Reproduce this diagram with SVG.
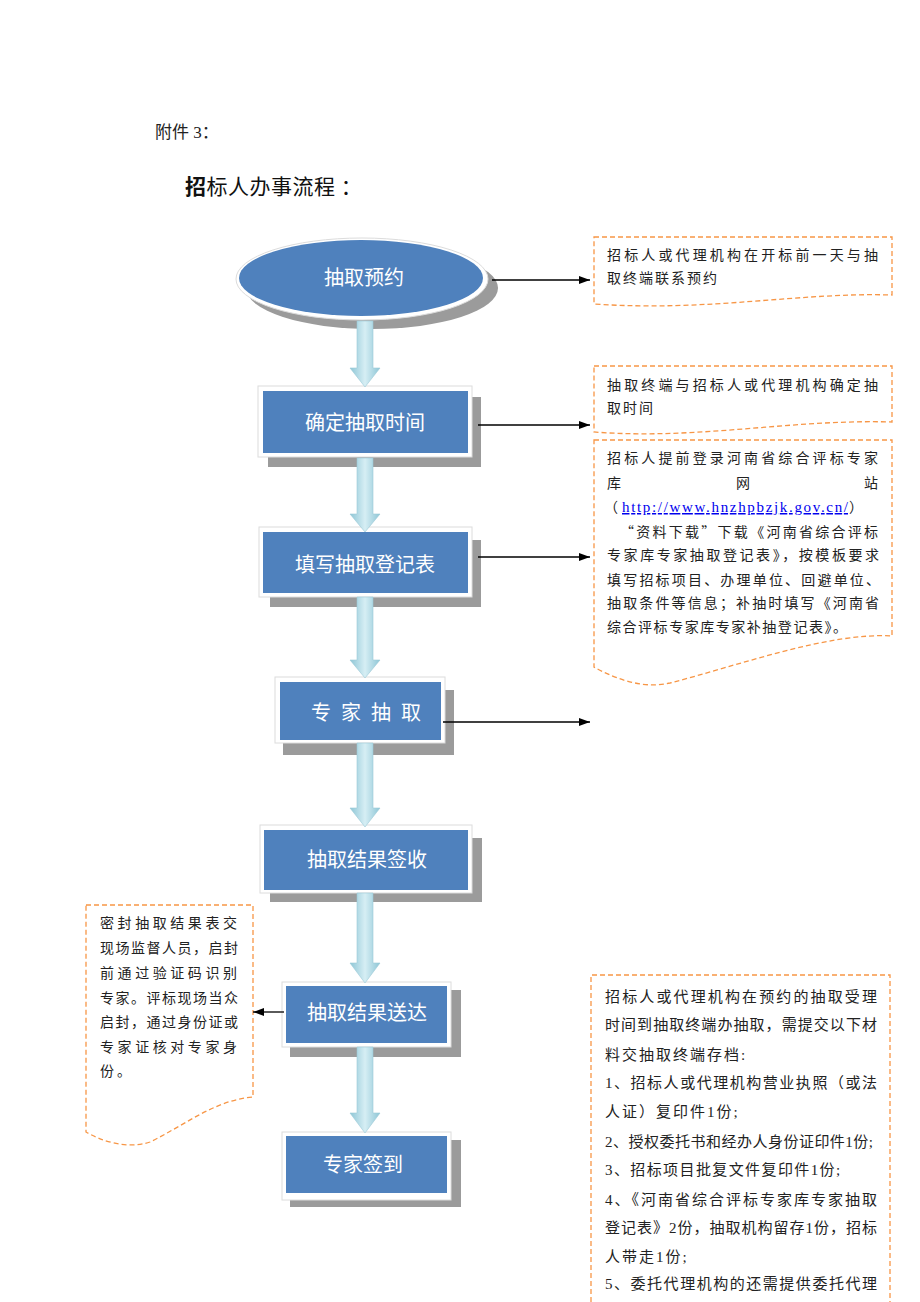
<svg xmlns="http://www.w3.org/2000/svg" width="920" height="1302" viewBox="0 0 920 1302">
<style>
.note{fill:#fff;stroke:#F79646;stroke-width:1.3;stroke-dasharray:5 3}
.nt{font-family:"Noto Sans CJK SC","Liberation Serif",serif;font-size:14px;fill:#222}
.nb{font-family:"Liberation Serif","Noto Sans CJK SC",serif;font-size:15px;fill:#222}
.lbl{font-family:"Noto Sans CJK SC",sans-serif;font-size:20px;fill:#fff;text-anchor:middle}
.sh{fill:#9b9b9b}
.rim{fill:#fff;stroke:#dcdcdc;stroke-width:1}
.blue{fill:#4f81bd}
.thin{stroke:#000;stroke-width:1.3;fill:none;marker-end:url(#ah)}
.fat{fill:url(#fg);stroke:#9cc9d6;stroke-width:0.6}
</style>
<defs>
<marker id="ah" markerUnits="userSpaceOnUse" markerWidth="11" markerHeight="8" refX="11" refY="4" orient="auto"><path d="M0,0 L11,4 L0,8 z" fill="#000"/></marker>
<linearGradient id="fg" x1="0" y1="0" x2="1" y2="0"><stop offset="0" stop-color="#8ec6d6"/><stop offset="0.5" stop-color="#d6eef4"/><stop offset="1" stop-color="#8ec6d6"/></linearGradient>
</defs>
<rect width="920" height="1302" fill="#fff"/>
<g id="title">
<text x="155" y="138" font-family="Liberation Serif,'Noto Sans CJK SC',serif" font-size="17" fill="#222">附件 3：</text>
<text x="185" y="194" font-family="'Noto Sans CJK SC',sans-serif" font-size="21" fill="#111" letter-spacing="0.5"><tspan font-weight="bold">招</tspan>标人办事流程 ：</text>
</g>

<g id="n1">
<ellipse class="sh" cx="372" cy="288" rx="126" ry="41"/>
<ellipse class="rim" cx="362" cy="279" rx="126" ry="41"/>
<ellipse class="blue" cx="361" cy="278" rx="122" ry="38"/>
<text class="lbl" x="364" y="285">抽取预约</text>
</g>
<g id="n2">
<rect class="sh" x="268" y="397" width="213" height="70"/>
<rect class="rim" x="258" y="386" width="214" height="71"/>
<rect class="blue" x="263" y="391" width="205" height="62"/>
<text class="lbl" x="365" y="430">确定抽取时间</text>
</g>
<g id="n3">
<rect class="sh" x="270" y="540" width="211" height="67"/>
<rect class="rim" x="259" y="527" width="213" height="70"/>
<rect class="blue" x="263" y="532" width="205" height="61"/>
<text class="lbl" x="365" y="572">填写抽取登记表</text>
</g>
<g id="n4">
<rect class="sh" x="283" y="690" width="171" height="65"/>
<rect class="rim" x="275" y="677" width="170" height="66"/>
<rect class="blue" x="280" y="682" width="161" height="58"/>
<text class="lbl" x="371" y="720" letter-spacing="10">专家抽取</text>
</g>
<g id="n5">
<rect class="sh" x="270" y="838" width="212" height="64"/>
<rect class="rim" x="260" y="825" width="212" height="68"/>
<rect class="blue" x="264" y="830" width="204" height="60"/>
<text class="lbl" x="367" y="867">抽取结果签收</text>
</g>
<g id="n6">
<rect class="sh" x="290" y="990" width="171" height="67"/>
<rect class="rim" x="282" y="982" width="169" height="65"/>
<rect class="blue" x="286" y="986" width="161" height="57"/>
<text class="lbl" x="367" y="1020">抽取结果送达</text>
</g>
<g id="n7">
<rect class="sh" x="290" y="1140" width="171" height="67"/>
<rect class="rim" x="282" y="1132" width="169" height="68"/>
<rect class="blue" x="286" y="1136" width="161" height="57"/>
<text class="lbl" x="363" y="1172">专家签到</text>
</g>

<g id="note1">
<path class="note" d="M594,237 H892 V295 C800,292 710,312 594,304 Z"/>
<text class="nt" x="607" y="260" textLength="271" lengthAdjust="spacing">招标人或代理机构在开标前一天与抽</text>
<text class="nt" x="607" y="283" letter-spacing="2">取终端联系预约</text>
</g>
<g id="note2">
<path class="note" d="M594,366 H892 V422 C790,419 700,440 594,432 Z"/>
<text class="nt" x="607" y="390" textLength="271" lengthAdjust="spacing">抽取终端与招标人或代理机构确定抽</text>
<text class="nt" x="607" y="413" letter-spacing="2">取时间</text>
</g>
<g id="note3">
<path class="note" d="M594,440 H892 V636 C830,632 740,665 670,683 C640,690 610,676 594,667 Z"/>
<text class="nt" x="607" y="463" textLength="271" lengthAdjust="spacing">招标人提前登录河南省综合评标专家</text>
<text class="nt" x="607" y="488">库</text>
<text class="nt" x="736" y="488">网</text>
<text class="nt" x="864" y="488">站</text>
<text class="nt" x="604" y="512">（</text>
<text x="622" y="512" font-family="Liberation Serif,serif" font-size="15" fill="#0000ee" text-decoration="underline" textLength="226" lengthAdjust="spacing">http://www.hnzhpbzjk.gov.cn/</text>
<text class="nt" x="849" y="512">）</text>
<text class="nt" x="620" y="537" textLength="258" lengthAdjust="spacing">“资料下载”下载《河南省综合评标</text>
<text class="nt" x="607" y="560" textLength="272" lengthAdjust="spacing">专家库专家抽取登记表》，按模板要求</text>
<text class="nt" x="607" y="585" textLength="273" lengthAdjust="spacing">填写招标项目、办理单位、回避单位、</text>
<text class="nt" x="607" y="608" textLength="272" lengthAdjust="spacing">抽取条件等信息；补抽时填写《河南省</text>
<text class="nt" x="607" y="632" textLength="240" lengthAdjust="spacing">综合评标专家库专家补抽登记表》。</text>
</g>
<g id="note4">
<path class="note" d="M86,905 H253 V1097 C215,1100 185,1125 150,1142 C125,1150 100,1140 86,1132 Z"/>
<text class="nt" x="100" y="928" textLength="137" lengthAdjust="spacing">密封抽取结果表交</text>
<text class="nt" x="100" y="953" textLength="138" lengthAdjust="spacing">现场监督人员，启封</text>
<text class="nt" x="100" y="978" textLength="137" lengthAdjust="spacing">前通过验证码识别</text>
<text class="nt" x="100" y="1003" textLength="138" lengthAdjust="spacing">专家。评标现场当众</text>
<text class="nt" x="100" y="1027" textLength="138" lengthAdjust="spacing">启封，通过身份证或</text>
<text class="nt" x="100" y="1052" textLength="137" lengthAdjust="spacing">专家证核对专家身</text>
<text class="nt" x="100" y="1076" letter-spacing="3">份。</text>
</g>
<g id="note5">
<path class="note" d="M591,1310 V975 H890 V1310"/>
<text class="nb" x="605" y="1002" textLength="272" lengthAdjust="spacing">招标人或代理机构在预约的抽取受理</text>
<text class="nb" x="605" y="1030" textLength="272" lengthAdjust="spacing">时间到抽取终端办抽取，需提交以下材</text>
<text class="nb" x="605" y="1060" letter-spacing="2">料交抽取终端存档:</text>
<text class="nb" x="605" y="1088" textLength="272" lengthAdjust="spacing">1、招标人或代理机构营业执照（或法</text>
<text class="nb" x="605" y="1117" letter-spacing="2">人证）复印件1份;</text>
<text class="nb" x="605" y="1147" textLength="268" lengthAdjust="spacing">2、授权委托书和经办人身份证印件1份;</text>
<text class="nb" x="605" y="1175" letter-spacing="1.4">3、招标项目批复文件复印件1份;</text>
<text class="nb" x="605" y="1205" textLength="272" lengthAdjust="spacing">4、《河南省综合评标专家库专家抽取</text>
<text class="nb" x="605" y="1233" textLength="272" lengthAdjust="spacing">登记表》2份，抽取机构留存1份，招标</text>
<text class="nb" x="605" y="1262" letter-spacing="2">人带走1份;</text>
<text class="nb" x="605" y="1289" textLength="272" lengthAdjust="spacing">5、委托代理机构的还需提供委托代理</text>
</g>

<g id="connectors">
<polygon class="fat" points="357,321 373,321 373,368 380,368 365,387 350,368 357,368"/>
<polygon class="fat" points="357,458 373,458 373,514 380,514 365,532 350,514 357,514"/>
<polygon class="fat" points="357,597 373,597 373,660 380,660 365,678 350,660 357,660"/>
<polygon class="fat" points="357,743 373,743 373,808 380,808 365,827 350,808 357,808"/>
<polygon class="fat" points="357,893 373,893 373,963 380,963 365,983 350,963 357,963"/>
<polygon class="fat" points="357,1047 373,1047 373,1113 380,1113 365,1133 350,1113 357,1113"/>
<line class="thin" x1="492" y1="280" x2="590" y2="280"/>
<line class="thin" x1="478" y1="425" x2="590" y2="425"/>
<line class="thin" x1="478" y1="557" x2="590" y2="557"/>
<line class="thin" x1="443" y1="722" x2="590" y2="722"/>
<line class="thin" x1="284" y1="1012" x2="253" y2="1012"/>
</g>
</svg>
